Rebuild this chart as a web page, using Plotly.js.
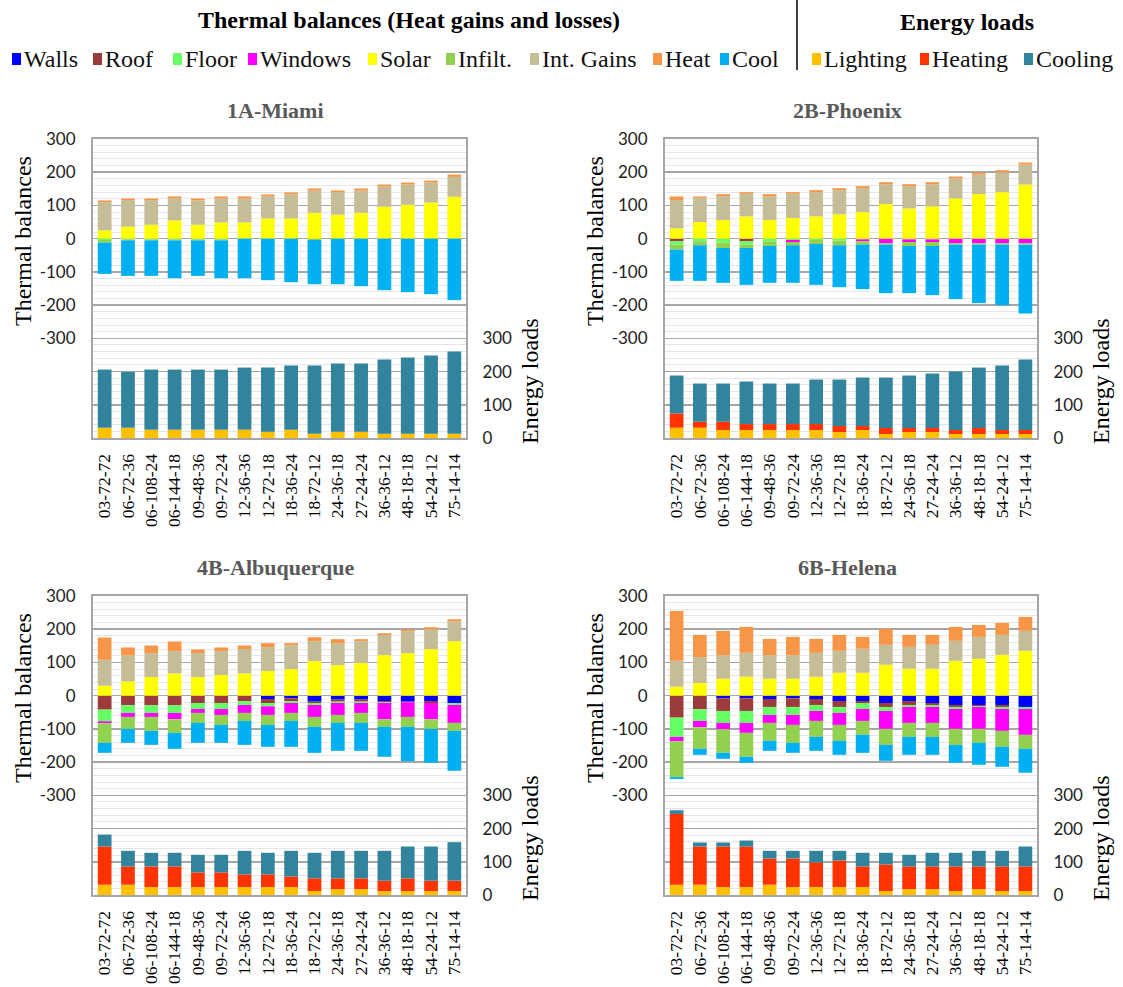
<!DOCTYPE html>
<html>
<head>
<meta charset="utf-8">
<script src="https://cdn.plot.ly/plotly-3.0.1.min.js"></script>
<style>
  html, body { margin: 0; padding: 0; background: #fff; }
  #chart { width: 1123px; height: 987px; }
</style>
</head>
<body>
<div id="chart"></div>
<script>
// ---------------- DATA ----------------
const categories = ['03-72-72','06-72-36','06-108-24','06-144-18','09-48-36','09-72-24','12-36-36','12-72-18','18-36-24','18-72-12','24-36-18','27-24-24','36-36-12','48-18-18','54-24-12','75-14-14'];

const thermalNames = ['Walls','Roof','Floor','Windows','Solar','Infilt.','Int. Gains','Heat','Cool'];
const energyNames = ['Lighting','Heating','Cooling'];
const cityNames = ['1A-Miami','2B-Phoenix','4B-Albuquerque','6B-Helena'];

// 1A-Miami
const miamiWalls    = [0,0,0,0,0,0,0,0,0,0,0,0,0,0,0,0];
const miamiRoof     = [0,0,0,0,0,0,0,0,0,0,0,0,0,0,0,0];
const miamiFloor    = [-4,-2,-2,-2,-2,-2,0,0,0,-1,0,0,0,0,0,0];
const miamiWindows  = [0,0,0,0,0,0,0,0,0,0,0,0,0,0,0,0];
const miamiSolar    = [25,36,42,55,42,49,49,61,61,78,72,78,96,102,109,126];
const miamiInfilt   = [-8,-3,-3,-3,-3,-3,0,0,0,-3,0,0,0,0,0,0];
const miamiIntGains = [85,80,74,66,73,72,72,67,72,67,68,67,61,61,60,60];
const miamiHeat     = [5,5,5,6,6,6,6,5,6,6,5,6,6,6,6,7];
const miamiCool     = [-94,-107,-107,-114,-107,-114,-119,-125,-131,-133,-137,-143,-155,-161,-167,-185];
const miamiLighting = [31,31,25,25,25,25,25,19,25,13,19,19,13,13,13,13];
const miamiHeating  = [0,0,0,0,0,0,0,0,0,0,0,0,0,0,0,0];
const miamiCooling  = [175,168,181,181,181,181,187,193,193,205,205,205,223,229,235,247];

// 2B-Phoenix
const phoenixWalls    = [0,0,0,0,0,0,0,0,0,0,0,0,0,0,0,0];
const phoenixRoof     = [-8,0,0,-8,0,0,0,0,0,0,0,0,0,0,0,0];
const phoenixFloor    = [-10,-8,-12,-10,-8,-4,-4,-6,-2,0,-2,-2,0,0,0,0];
const phoenixWindows  = [0,0,0,0,0,-6,0,0,-6,-14,-8,-8,-14,-14,-14,-14];
const phoenixSolar    = [31,50,56,67,56,62,67,73,80,104,91,97,121,134,140,163];
const phoenixInfilt   = [-15,-12,-16,-10,-14,-10,-12,-14,-10,-4,-12,-12,-4,-4,-4,-4];
const phoenixIntGains = [85,73,72,68,72,73,73,73,72,60,67,67,60,59,60,60];
const phoenixHeat     = [11,4,6,5,6,5,6,6,6,6,6,6,6,6,6,6];
const phoenixCool     = [-94,-107,-105,-111,-111,-113,-123,-126,-134,-146,-142,-148,-164,-176,-182,-207];
const phoenixLighting = [31,31,24,24,24,24,24,18,24,12,18,18,12,12,12,12];
const phoenixHeating  = [43,18,25,18,18,18,18,18,12,18,12,12,12,18,12,12];
const phoenixCooling  = [114,115,115,128,122,122,134,140,146,152,158,164,176,182,194,212];

// 4B-Albuquerque
const albuqWalls    = [0,0,0,0,0,0,0,-10,-8,-18,-12,-12,-16,-18,-16,-22];
const albuqRoof     = [-42,-29,-29,-29,-22,-22,-17,-12,-8,-4,-6,-6,-4,-2,-6,0];
const albuqFloor    = [-35,-23,-23,-23,-18,-18,-11,-10,-6,-6,-4,-4,-2,0,0,-6];
const albuqWindows  = [-6,-12,-12,-19,-12,-18,-24,-26,-30,-36,-36,-30,-49,-44,-49,-54];
const albuqSolar    = [30,43,56,67,56,62,67,74,80,104,92,98,122,128,140,164];
const albuqInfilt   = [-59,-36,-42,-41,-30,-30,-24,-30,-24,-30,-24,-30,-23,-30,-29,-24];
const albuqIntGains = [78,78,72,67,72,72,73,72,72,60,66,66,60,66,60,60];
const albuqHeat     = [67,24,23,29,11,11,11,12,6,12,12,6,6,5,6,6];
const albuqCool     = [-30,-42,-42,-48,-60,-54,-72,-66,-78,-78,-84,-84,-90,-103,-102,-120];
const albuqLighting = [31,31,24,24,24,24,24,24,24,12,18,18,12,12,12,12];
const albuqHeating  = [115,55,62,62,44,44,38,38,32,38,32,32,31,38,31,31];
const albuqCooling  = [36,47,41,41,53,53,71,65,77,77,83,83,90,96,103,116];

// 6B-Helena
const helenaWalls    = [0,0,-8,-8,-10,-8,-10,-16,-16,-22,-16,-22,-28,-28,-28,-34];
const helenaRoof     = [-66,-41,-38,-38,-24,-26,-18,-18,-6,-12,-12,-6,-6,-3,-6,0];
const helenaFloor    = [-58,-35,-36,-36,-24,-24,-18,-18,-18,-12,-6,-6,-6,-3,-6,-6];
const helenaWindows  = [-13,-19,-19,-30,-24,-30,-30,-36,-36,-54,-48,-48,-60,-66,-66,-78];
const helenaSolar    = [27,38,51,57,51,51,57,69,69,93,81,81,105,111,123,135];
const helenaInfilt   = [-108,-65,-71,-72,-54,-54,-48,-48,-42,-48,-42,-42,-48,-42,-48,-42];
const helenaIntGains = [78,78,71,72,71,71,72,66,72,60,66,72,60,66,60,60];
const helenaHeat     = [150,67,73,78,49,55,42,48,36,48,36,30,42,36,36,42];
const helenaCool     = [-6,-18,-18,-18,-30,-30,-42,-42,-54,-48,-54,-54,-54,-66,-60,-72];
const helenaLighting = [31,31,24,24,31,24,24,24,24,12,18,18,12,18,12,12];
const helenaHeating  = [213,115,122,122,79,86,74,80,62,80,68,68,74,68,74,74];
const helenaCooling  = [11,12,12,18,23,23,35,29,41,35,35,41,41,47,47,60];

const thermalTicks = [-600,-500,-400,-300,-200,-100,0,100,200,300];
const thermalTickText = ['','','','-300','-200','-100','0','100','200','300'];
const energyTicks = [0,100,200,300];

// ---------------- STYLE ----------------
const thermalColors = ['#0000FF','#9B3B3B','#66FF66','#FF00FF','#FFFF00','#92D050','#C4BD97','#F79646','#00B0F0'];
const energyColors = ['#FFC000','#FF3300','#31849B'];

const W = 1123, H = 987;
const px = x => x / W;
const py = y => 1 - y / H;

const panels = [
  {thermal:[miamiWalls,miamiRoof,miamiFloor,miamiWindows,miamiSolar,miamiInfilt,miamiIntGains,miamiHeat,miamiCool],
   energy:[miamiLighting,miamiHeating,miamiCooling], left:93, right:466, top:139, bottom:438},
  {thermal:[phoenixWalls,phoenixRoof,phoenixFloor,phoenixWindows,phoenixSolar,phoenixInfilt,phoenixIntGains,phoenixHeat,phoenixCool],
   energy:[phoenixLighting,phoenixHeating,phoenixCooling], left:665, right:1037, top:139, bottom:438},
  {thermal:[albuqWalls,albuqRoof,albuqFloor,albuqWindows,albuqSolar,albuqInfilt,albuqIntGains,albuqHeat,albuqCool],
   energy:[albuqLighting,albuqHeating,albuqCooling], left:93, right:466, top:596, bottom:895},
  {thermal:[helenaWalls,helenaRoof,helenaFloor,helenaWindows,helenaSolar,helenaInfilt,helenaIntGains,helenaHeat,helenaCool],
   energy:[helenaLighting,helenaHeating,helenaCooling], left:665, right:1037, top:596, bottom:895}
];

const serif = 'Liberation Serif, Times New Roman, serif';
const sans = 'Lato, Open Sans, sans-serif';
const traces = [];
const layout = {
  width: W, height: H,
  margin: {l:0, r:0, t:0, b:0},
  paper_bgcolor: '#fff', plot_bgcolor: '#fff',
  barmode: 'relative', bargap: 0.41,
  showlegend: false,
  annotations: [], shapes: []
};

panels.forEach((p, i) => {
  const n = i + 1;
  const xid = n === 1 ? 'x' : 'x' + n;
  const yL = 2 * n - 1, yR = 2 * n;
  const yLid = yL === 1 ? 'y' : 'y' + yL;
  const yRid = 'y' + yR;
  const xKey = n === 1 ? 'xaxis' : 'xaxis' + n;
  const yLKey = yL === 1 ? 'yaxis' : 'yaxis' + yL;
  const yRKey = 'yaxis' + yR;

  p.thermal.forEach((vals, k) => {
    traces.push({type:'bar', x:categories, y:vals, name:thermalNames[k], xaxis:xid, yaxis:yLid,
      marker:{color:thermalColors[k], line:{width:0}}, hoverinfo:'x+y+name'});
  });
  p.energy.forEach((vals, k) => {
    traces.push({type:'bar', x:categories, y:vals, name:energyNames[k], xaxis:xid, yaxis:yRid,
      marker:{color:energyColors[k], line:{width:0}}, hoverinfo:'x+y+name'});
  });

  layout[xKey] = {
    domain:[px(p.left), px(p.right)], anchor: yLid, type:'category',
    tickangle:-90, tickfont:{family:serif, size:17.5, color:'#000'},
    showline:true, mirror:true, linecolor:'#A6A6A6', linewidth:2,
    ticks:'outside', ticklen:7, tickcolor:'rgba(0,0,0,0)', showgrid:false, fixedrange:true
  };
  layout[yLKey] = {
    domain:[py(p.bottom), py(p.top)], anchor: xid, range:[-600,300],
    tickmode:'array', tickvals:thermalTicks, ticktext:thermalTickText,
    tickfont:{family:sans, size:17, color:'#222'},
    ticks:'outside', ticklen:12, tickcolor:'rgba(0,0,0,0)',
    showgrid:true, gridcolor:'#A6A6A6', gridwidth:1.5, zeroline:false,
    minor:{tickmode:'linear', tick0:0, dtick:20, showgrid:true, gridcolor:'#E6E6E6', gridwidth:1, ticks:''},
    showline:true, mirror:true, linecolor:'#A6A6A6', linewidth:2, fixedrange:true
  };
  layout[yRKey] = {
    overlaying: yLid, side:'right', anchor: xid, range:[0,900],
    tickmode:'array', tickvals:energyTicks,
    tickfont:{family:sans, size:17, color:'#222'},
    ticks:'outside', ticklen:12, tickcolor:'rgba(0,0,0,0)',
    showgrid:false, zeroline:false, showline:false, fixedrange:true
  };

  const cx = (p.left + p.right) / 2;
  layout.annotations.push({text:'<b>' + cityNames[i] + '</b>', x:px(cx - 4), y:py(p.top - 29), xref:'paper', yref:'paper',
    xanchor:'center', yanchor:'middle', showarrow:false, font:{family:serif, size:22, color:'#595959'}});
  layout.annotations.push({text:'Thermal balances', x:px(p.left - 70), y:py(p.top + 102), xref:'paper', yref:'paper',
    xanchor:'center', yanchor:'middle', textangle:-90, showarrow:false, font:{family:serif, size:24, color:'#000'}});
  layout.annotations.push({text:'Energy loads', x:px(p.right + 64), y:py(p.top + 242), xref:'paper', yref:'paper',
    xanchor:'center', yanchor:'middle', textangle:-90, showarrow:false, font:{family:serif, size:24, color:'#000'}});
});

// header titles
layout.annotations.push({text:'<b>Thermal balances (Heat gains and losses)</b>', x:px(409), y:py(20), xref:'paper', yref:'paper',
  xanchor:'center', yanchor:'middle', showarrow:false, font:{family:serif, size:24, color:'#000'}});
layout.annotations.push({text:'<b>Energy loads</b>', x:px(967), y:py(22), xref:'paper', yref:'paper',
  xanchor:'center', yanchor:'middle', showarrow:false, font:{family:serif, size:24, color:'#000'}});
layout.shapes.push({type:'line', xref:'paper', yref:'paper', x0:px(797), x1:px(797), y0:py(0), y1:py(70),
  line:{color:'#000', width:1.5}});

// custom legend row
const legendNames = thermalNames.concat(energyNames);
const legendColors = thermalColors.concat(energyColors);
const legendX = [12, 93, 173, 248, 368, 446, 530, 653, 720, 812, 920, 1024];
legendNames.forEach((name, k) => {
  const sx = legendX[k];
  layout.shapes.push({type:'rect', xref:'paper', yref:'paper', x0:px(sx), x1:px(sx + 9), y0:py(65), y1:py(53),
    fillcolor:legendColors[k], line:{width:0}});
  layout.annotations.push({text:name, x:px(sx + 10), y:py(59), xref:'paper', yref:'paper', xanchor:'left', yanchor:'middle',
    showarrow:false, font:{family:serif, size:24, color:'#111'}});
});

Plotly.newPlot('chart', traces, layout, {displayModeBar:false, staticPlot:true});
</script>
</body>
</html>
